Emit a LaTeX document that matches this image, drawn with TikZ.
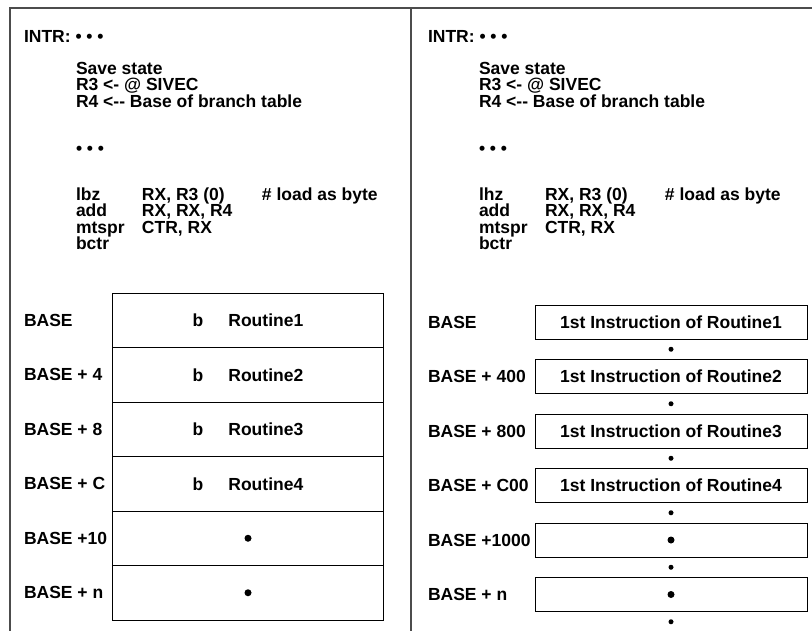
\documentclass[tikz,border=0pt]{standalone}
\usepackage{fontspec}
\setmainfont{Liberation Sans}
\usetikzlibrary{positioning}
\newcommand{\diagfont}{\fontsize{17.5bp}{16.5bp}\selectfont\bfseries\lineskiplimit=-20bp\lineskip=0pt}
\newcommand{\opcode}[3]{\makebox[66bp][l]{#1}\makebox[120bp][l]{#2}#3}

\begin{document}
\begin{tikzpicture}[
    x=1bp, y=-1bp,
    every node/.style={font=\diagfont, inner sep=0pt, outer sep=0pt},
    frameline/.style={draw=black!70, line width=1.3bp},
    textblock/.style={align=left, anchor=north west},
    addr/.style={anchor=west},
    cell/.style={draw, line width=1bp, minimum width=270bp, minimum height=54.5bp},
    slot/.style={draw, line width=1bp, minimum width=272bp, minimum height=34bp},
    celldot/.style={circle, fill, minimum size=7bp},
    gapdot/.style={circle, fill, minimum size=5bp}
]
\useasboundingbox (0,0) rectangle (812,631);

% Frame
\draw[frameline] (10,631) -- (10,8) -- (812,8);
\draw[frameline] (411,8) -- (411,631);

% Left: byte offset into branch table
\node[textblock] (intrL) at (24,30) {INTR: \textbullet\ \textbullet\ \textbullet};
\node[textblock] (saveL) at (76,62) {Save state\\R3 <- @ SIVEC\\R4 <-{}- Base of branch table};
\node[addr] (dotsL) at (76,150) {\textbullet\ \textbullet\ \textbullet};
\node[textblock] (codeL) at (76,187.5) {\opcode{lbz}{RX, R3 (0)}{\# load as byte}\\\opcode{add}{RX, RX, R4}{}\\\opcode{mtspr}{CTR, RX}{}\\bctr};

\node[cell] (baseL) at (248,320.25) {b\hspace{25bp}Routine1};
\node[cell, below=0pt of baseL] (base4L) {b\hspace{25bp}Routine2};
\node[cell, below=0pt of base4L] (base8L) {b\hspace{25bp}Routine3};
\node[cell, below=0pt of base8L] (baseCL) {b\hspace{25bp}Routine4};
\node[cell, below=0pt of baseCL] (base10L) {};
\node[cell, below=0pt of base10L] (basenL) {};
\node[celldot] (dot10L) at (base10L) {};
\node[celldot] (dotnL) at (basenL) {};

\node[addr] (addrL1) at (baseL.west -| intrL.west) {BASE};
\node[addr] (addrL2) at (base4L.west -| intrL.west) {BASE + 4};
\node[addr] (addrL3) at (base8L.west -| intrL.west) {BASE + 8};
\node[addr] (addrL4) at (baseCL.west -| intrL.west) {BASE + C};
\node[addr] (addrL5) at (base10L.west -| intrL.west) {BASE +10};
\node[addr] (addrL6) at (basenL.west -| intrL.west) {BASE + n};

% Right: halfword offset into routine table
\node[textblock] (intrR) at (428,30) {INTR: \textbullet\ \textbullet\ \textbullet};
\node[textblock] (saveR) at (479,62) {Save state\\R3 <- @ SIVEC\\R4 <-{}- Base of branch table};
\node[addr] (dotsR) at (479,150) {\textbullet\ \textbullet\ \textbullet};
\node[textblock] (codeR) at (479,187.5) {\opcode{lhz}{RX, R3 (0)}{\# load as byte}\\\opcode{add}{RX, RX, R4}{}\\\opcode{mtspr}{CTR, RX}{}\\bctr};

\node[slot] (slot1) at (671,322) {1st Instruction of Routine1};
\node[gapdot, below=7.75bp of slot1] (gap1) {};
\node[slot, below=7.75bp of gap1] (slot2) {1st Instruction of Routine2};
\node[gapdot, below=7.75bp of slot2] (gap2) {};
\node[slot, below=7.75bp of gap2] (slot3) {1st Instruction of Routine3};
\node[gapdot, below=7.75bp of slot3] (gap3) {};
\node[slot, below=7.75bp of gap3] (slot4) {1st Instruction of Routine4};
\node[gapdot, below=7.75bp of slot4] (gap4) {};
\node[slot, below=7.75bp of gap4] (slot5) {};
\node[gapdot, below=7.75bp of slot5] (gap5) {};
\node[slot, below=7.75bp of gap5] (slot6) {};
\node[gapdot, below=7.75bp of slot6] (gap6) {};
\node[celldot] (dot5R) at (slot5) {};
\node[celldot] (dot6R) at (slot6) {};

\node[addr] (addrR1) at (slot1.west -| intrR.west) {BASE};
\node[addr] (addrR2) at (slot2.west -| intrR.west) {BASE + 400};
\node[addr] (addrR3) at (slot3.west -| intrR.west) {BASE + 800};
\node[addr] (addrR4) at (slot4.west -| intrR.west) {BASE + C00};
\node[addr] (addrR5) at (slot5.west -| intrR.west) {BASE +1000};
\node[addr] (addrR6) at (slot6.west -| intrR.west) {BASE + n};
\end{tikzpicture}
\end{document}
